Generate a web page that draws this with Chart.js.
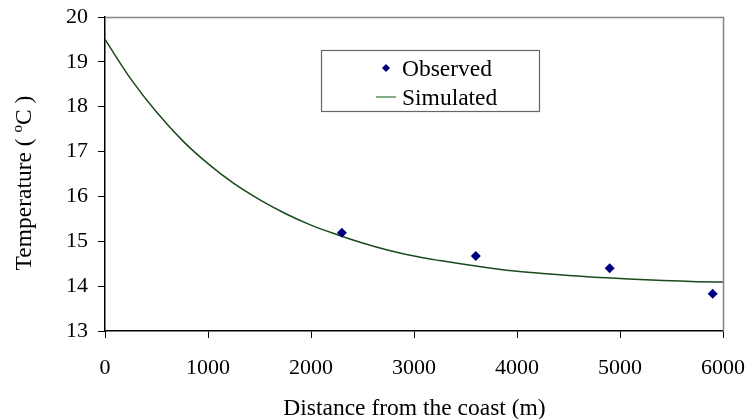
<!DOCTYPE html>
<html>
<head>
<meta charset="utf-8">
<script src="https://cdn.jsdelivr.net/npm/chart.js@4.4.1/dist/chart.umd.min.js"></script>
<style>
html,body{margin:0;padding:0;background:#fff;}
#wrap{width:748px;height:419px;position:relative;}
</style>
</head>
<body>
<div id="wrap"><canvas id="c" width="748" height="419"></canvas></div>
<script>
// Observed measurements
const obsDistance = [2300, 3600, 4900, 5900];
const obsTemp = [15.19, 14.67, 14.40, 13.83];
// Simulated curve
const simDistance = [0, 250, 500, 750, 1000, 1250, 1500, 1750, 2000, 2250, 2500, 2750, 3000, 3250, 3500, 3750, 4000, 4250, 4500, 4750, 5000, 5250, 5500, 5750, 6000];
const simTemp = [19.50, 18.62, 17.88, 17.25, 16.73, 16.29, 15.93, 15.62, 15.36, 15.15, 14.96, 14.80, 14.67, 14.57, 14.48, 14.40, 14.33, 14.28, 14.24, 14.20, 14.17, 14.14, 14.12, 14.10, 14.09];
const xTicks = [0, 1000, 2000, 3000, 4000, 5000, 6000];
const yTicks = [13, 14, 15, 16, 17, 18, 19, 20];
const seriesNames = ["Observed", "Simulated"];

const FONT = "'Liberation Serif', 'Times New Roman', serif";
const TXT = 23.5;

const decor = {
  id: 'decor',
  afterDraw(chart) {
    const ctx = chart.ctx;
    const a = chart.chartArea;
    ctx.save();
    // top & right frame
    ctx.strokeStyle = '#858585';
    ctx.lineWidth = 1.5;
    ctx.beginPath();
    ctx.moveTo(a.left, a.top + 0.5);
    ctx.lineTo(a.right + 0.5, a.top + 0.5);
    ctx.lineTo(a.right + 0.5, a.bottom);
    ctx.stroke();
    // x title
    ctx.fillStyle = '#000';
    ctx.font = TXT + 'px ' + FONT;
    ctx.textAlign = 'center';
    ctx.textBaseline = 'alphabetic';
    ctx.fillText('Distance from the coast (m)', (a.left + a.right) / 2 + 0.5, 415);
    // y title with superscript
    ctx.save();
    ctx.translate(24, 183);
    ctx.rotate(-Math.PI / 2);
    const p1 = 'Temperature ( ', sup = 'o', p2 = 'C )';
    ctx.font = TXT + 'px ' + FONT;
    const w1 = ctx.measureText(p1).width, w3 = ctx.measureText(p2).width;
    ctx.font = '15px ' + FONT;
    const w2 = ctx.measureText(sup).width;
    const total = w1 + w2 + w3;
    let x = -total / 2;
    ctx.textAlign = 'left';
    ctx.textBaseline = 'alphabetic';
    ctx.font = TXT + 'px ' + FONT;
    ctx.fillText(p1, x, 7); x += w1;
    ctx.font = '15px ' + FONT;
    ctx.fillText(sup, x, -2); x += w2;
    ctx.font = TXT + 'px ' + FONT;
    ctx.fillText(p2, x, 7);
    ctx.restore();
    // legend
    const lx = 321, ly = 50, lw = 218, lh = 61;
    ctx.strokeStyle = '#666';
    ctx.lineWidth = 1.2;
    ctx.fillStyle = '#fff';
    ctx.fillRect(lx, ly, lw, lh);
    ctx.strokeRect(lx + 0.5, ly + 0.5, lw, lh);
    const ds0 = chart.data.datasets[0], ds1 = chart.data.datasets[1];
    // diamond
    ctx.fillStyle = ds0.backgroundColor;
    ctx.beginPath();
    const cx = 386, cy = 68, r = 4;
    ctx.moveTo(cx, cy - r); ctx.lineTo(cx + r, cy); ctx.lineTo(cx, cy + r); ctx.lineTo(cx - r, cy); ctx.closePath();
    ctx.fill();
    // line sample
    ctx.strokeStyle = '#5f8f5f';
    ctx.lineWidth = 1.5;
    ctx.beginPath();
    ctx.moveTo(376, 97); ctx.lineTo(396, 97); ctx.stroke();
    ctx.fillStyle = '#000';
    ctx.font = TXT + 'px ' + FONT;
    ctx.textAlign = 'left';
    ctx.textBaseline = 'alphabetic';
    ctx.fillText(ds0.label, 402, 76);
    ctx.fillText(ds1.label, 402, 105);
    ctx.restore();
  }
};

new Chart(document.getElementById('c'), {
  data: {
    datasets: [
      {
        type: 'scatter',
        label: seriesNames[0],
        data: obsDistance.map((d, i) => ({x: d, y: obsTemp[i]})),
        backgroundColor: '#000080',
        borderColor: '#000080',
        pointStyle: 'rectRot',
        pointRadius: 5,
        pointBorderWidth: 0,
        order: 0
      },
      {
        type: 'line',
        label: seriesNames[1],
        data: simDistance.map((d, i) => ({x: d, y: simTemp[i]})),
        borderColor: '#1a4a1a',
        borderWidth: 1.5,
        pointRadius: 0,
        fill: false,
        cubicInterpolationMode: 'monotone',
        order: 1
      }
    ]
  },
  options: {
    responsive: false,
    animation: false,
    devicePixelRatio: 1,
    layout: { padding: { left: 0, right: 25, top: 17, bottom: 0 } },
    plugins: { legend: { display: false }, tooltip: { enabled: false } },
    scales: {
      x: {
        type: 'linear',
        min: 0, max: 6000,
        afterBuildTicks: s => { s.ticks = xTicks.map(v => ({value: v})); },
        afterFit: s => { s.height = 88; s.paddingLeft = 0; s.paddingRight = 0; },
        ticks: { color: '#000', font: { family: FONT, size: 22 }, padding: 17, maxRotation: 0, callback: v => String(v) },
        grid: { drawOnChartArea: false, drawTicks: true, tickLength: 7, color: '#000' },
        border: { color: '#000', width: 1.5 }
      },
      y: {
        type: 'linear',
        min: 13, max: 20,
        afterBuildTicks: s => { s.ticks = yTicks.map(v => ({value: v})); },
        afterFit: s => { s.width = 105; s.paddingTop = 0; s.paddingBottom = 0; },
        ticks: { color: '#000', font: { family: FONT, size: 22 }, padding: 10, callback: v => String(v) },
        grid: { drawOnChartArea: false, drawTicks: true, tickLength: 7, color: '#000' },
        border: { color: '#000', width: 1.5 }
      }
    }
  },
  plugins: [decor]
});
</script>
</body>
</html>
